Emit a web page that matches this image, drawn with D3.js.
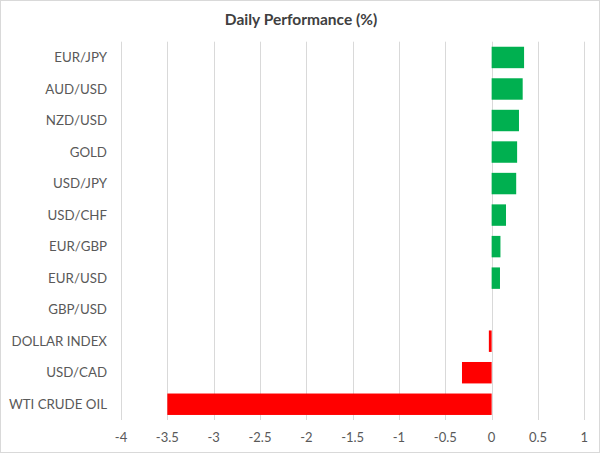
<!DOCTYPE html>
<html><head><meta charset="utf-8">
<script src="https://cdn.jsdelivr.net/npm/d3@7"></script>
<style>html,body{margin:0;padding:0;background:#fff;}svg{display:block;}</style>
</head><body>
<script>
const categories = ["EUR/JPY","AUD/USD","NZD/USD","GOLD","USD/JPY","USD/CHF","EUR/GBP","EUR/USD","GBP/USD","DOLLAR INDEX","USD/CAD","WTI CRUDE OIL"];
const values = [0.35, 0.335, 0.295, 0.275, 0.265, 0.155, 0.095, 0.09, 0, -0.03, -0.32, -3.5];
const xTicks = [-4,-3.5,-3,-2.5,-2,-1.5,-1,-0.5,0,0.5,1];
const title = "Daily Performance (%)";

const W = 600, H = 453;
const font = "Lato, 'Open Sans', sans-serif";
const svg = d3.select("body").append("svg").attr("width", W).attr("height", H);
svg.append("rect").attr("x",0.5).attr("y",0.5).attr("width",W-1).attr("height",H-1)
  .attr("fill","#fff").attr("stroke","#d9d9d9");

const x = d3.scaleLinear().domain([-4,1]).range([121, 584.3]);
const y = d3.scaleBand().domain(categories).range([41.7, 420]).paddingInner(0.32).paddingOuter(0.16);

svg.append("g").selectAll("line").data(xTicks).join("line")
  .attr("x1", d=>Math.round(x(d))+0.5).attr("x2", d=>Math.round(x(d))+0.5)
  .attr("y1", 41.7).attr("y2", 420)
  .attr("stroke", "#d9d9d9").attr("stroke-width",1);

svg.append("g").selectAll("rect").data(values).join("rect")
  .attr("x", d=>x(Math.min(0,d))).attr("width", d=>Math.abs(x(d)-x(0)))
  .attr("y", (d,i)=>y(categories[i])).attr("height", y.bandwidth())
  .attr("fill", d=>d>=0?"#00b050":"#ff0000");

svg.append("g").selectAll("text").data(xTicks).join("text")
  .attr("x", d=>x(d)).attr("y", 442).attr("text-anchor","middle")
  .attr("font-family",font).attr("font-size",13).attr("fill","#595959")
  .text(d=>d);

svg.append("g").selectAll("text").data(categories).join("text")
  .attr("x", 107).attr("y", d=>y(d)+y.bandwidth()/2).attr("dy","0.35em")
  .attr("text-anchor","end")
  .attr("font-family",font).attr("font-size",13.3).attr("fill","#595959")
  .text(d=>d);

svg.append("text").attr("x",301).attr("y",25).attr("text-anchor","middle")
  .attr("font-family",font).attr("font-size",15.5).attr("font-weight","bold").attr("fill","#404040")
  .text(title);
</script>
</body></html>
